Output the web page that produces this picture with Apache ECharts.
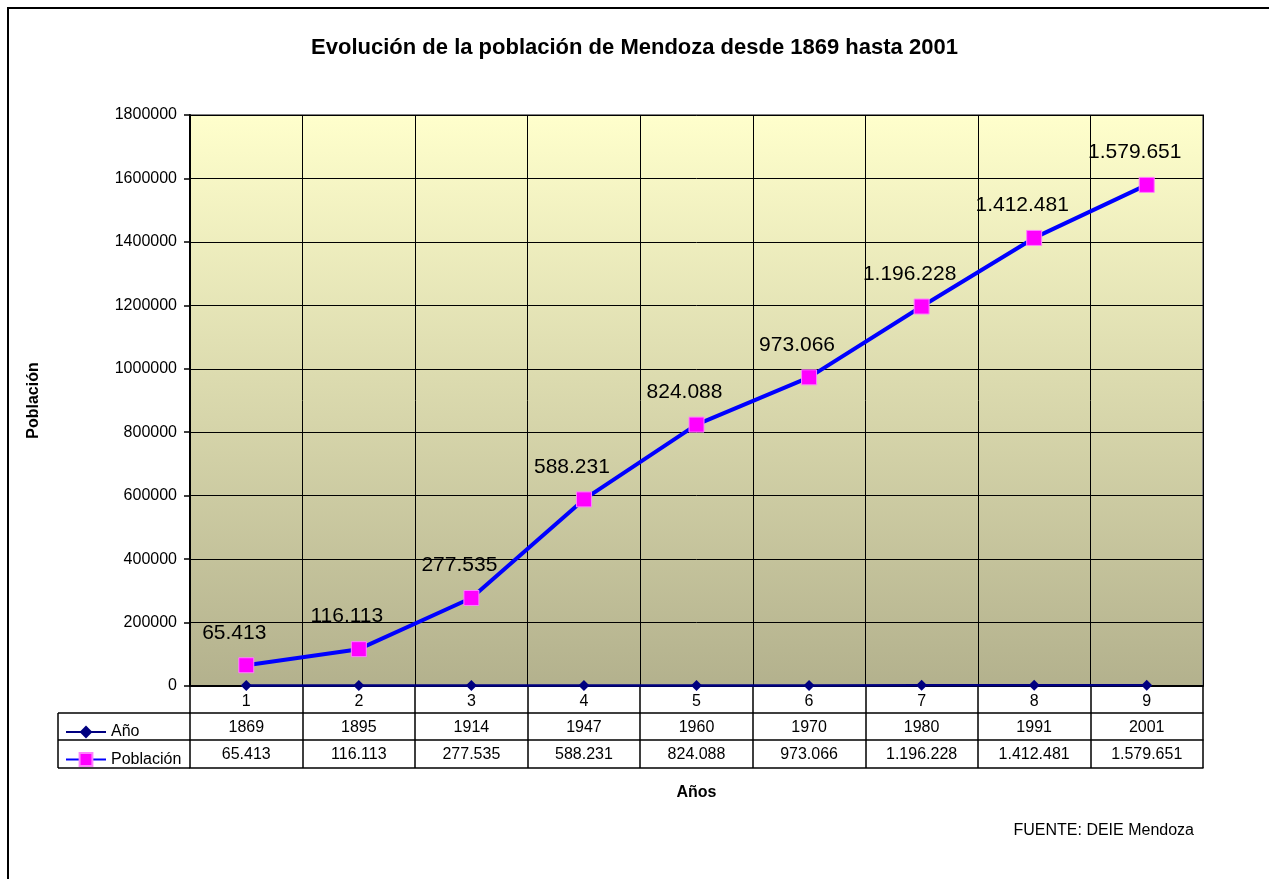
<!DOCTYPE html>
<html>
<head>
<meta charset="utf-8">
<script src="https://cdn.jsdelivr.net/npm/echarts@6/dist/echarts.min.js"></script>
<style>html,body{margin:0;padding:0;background:#fff}#c{width:1269px;height:879px}</style>
</head>
<body>
<div id="c"></div>
<script>
var categories = ['1','2','3','4','5','6','7','8','9'];
var years = [1869, 1895, 1914, 1947, 1960, 1970, 1980, 1991, 2001];
var population = [65413, 116113, 277535, 588231, 824088, 973066, 1196228, 1412481, 1579651];
var yTicks = {min: 0, max: 1800000, interval: 200000};

var FONT = '"Liberation Sans", Arial, sans-serif';
function fmt(v){ return String(v).replace(/\B(?=(\d{3})+(?!\d))/g, '.'); }

var chart = echarts.init(document.getElementById('c'), null, {renderer:'canvas'});
var tableAxis = function(data, offset, extra){
  return Object.assign({
    type:'category', gridIndex:0, position:'bottom', offset: offset, data: data,
    axisLine:{show:true, lineStyle:{color:'#000', width:1.5}},
    axisTick:{show:false},
    axisLabel:{show:true, interval:0, margin:7, color:'#000', fontSize:16, fontFamily:FONT},
    splitLine:{show:false}
  }, extra || {});
};
chart.setOption({
  animation:false,
  backgroundColor:'#fff',
  textStyle:{fontFamily:FONT},
  title:{
    text:'Evolución de la población de Mendoza desde 1869 hasta 2001',
    left:'center', top:32,
    textStyle:{fontSize:22, fontWeight:'bold', color:'#000', fontFamily:FONT}
  },
  legend:{
    orient:'vertical', left:60, top:719, itemWidth:40, itemHeight:16, itemGap:11.5,
    selectedMode:false,
    textStyle:{fontSize:16, color:'#000', fontFamily:FONT},
    data:['Año','Población']
  },
  grid:{
    left:190, right:66, top:115, bottom:193, show:true,
    backgroundColor: new echarts.graphic.LinearGradient(0,0,0,1,[
      {offset:0, color:'#FFFFCC'},{offset:1, color:'#B3B18D'}]),
    borderColor:'#808080', borderWidth:2
  },
  xAxis:[
    {
      type:'category', data:categories, position:'bottom', boundaryGap:true,
      axisLine:{show:true, lineStyle:{color:'#000', width:2}},
      axisTick:{show:true, interval:0, length:82, lineStyle:{color:'#000', width:1.5}},
      axisLabel:{interval:0, margin:8, color:'#000', fontSize:16, fontFamily:FONT},
      splitLine:{show:true, interval:0, lineStyle:{color:'#000', width:1}}
    },
    tableAxis(years.map(String), 27),
    tableAxis(population.map(fmt), 54),
    tableAxis(categories.map(function(){return '';}), 82, {
      name:'Años', nameLocation:'middle', nameGap:17,
      nameTextStyle:{fontSize:16, fontWeight:'bold', color:'#000', fontFamily:FONT}
    })
  ],
  yAxis:{
    type:'value', min:yTicks.min, max:yTicks.max, interval:yTicks.interval,
    name:'Población', nameLocation:'middle', nameRotate:90, nameGap:148,
    nameTextStyle:{fontSize:16, fontWeight:'bold', color:'#000', fontFamily:FONT},
    axisLine:{show:true, lineStyle:{color:'#000', width:2}},
    axisTick:{show:true, length:6, lineStyle:{color:'#000', width:1.5}},
    axisLabel:{margin:13, color:'#000', fontSize:16, fontFamily:FONT,
      formatter:function(v){return String(v);}},
    splitLine:{show:true, lineStyle:{color:'#000', width:1}}
  },
  series:[
    {
      name:'Año', type:'line', data:years, z:3,
      symbol:'diamond', symbolSize:11,
      lineStyle:{color:'#000080', width:2.5},
      itemStyle:{color:'#000080'}
    },
    {
      name:'Población', type:'line', data:population, z:4,
      symbol:'rect', symbolSize:15,
      lineStyle:{color:'#0000FF', width:4},
      itemStyle:{color:'#FF00FF', borderColor:'#FF80FF', borderWidth:1},
      label:{show:true, position:'top', distance:4, offset:[-12,-10],
        fontSize:21, color:'#000', fontFamily:FONT,
        formatter:function(p){return fmt(p.value);}}
    }
  ],
  graphic:[
    {type:'rect', shape:{x:8, y:8, width:1300, height:900}, style:{fill:null, stroke:'#000', lineWidth:2}, silent:true},
    {type:'line', shape:{x1:58, y1:713, x2:190, y2:713}, style:{stroke:'#000', lineWidth:1.5}},
    {type:'line', shape:{x1:58, y1:740, x2:190, y2:740}, style:{stroke:'#000', lineWidth:1.5}},
    {type:'line', shape:{x1:58, y1:768, x2:190, y2:768}, style:{stroke:'#000', lineWidth:1.5}},
    {type:'line', shape:{x1:58, y1:713, x2:58, y2:768}, style:{stroke:'#000', lineWidth:1.5}},
    {type:'text', x:1194, y:831, style:{text:'FUENTE: DEIE Mendoza', fill:'#000', fontSize:16, fontFamily:FONT, textAlign:'right', textVerticalAlign:'middle'}}
  ]
});
</script>
</body>
</html>
